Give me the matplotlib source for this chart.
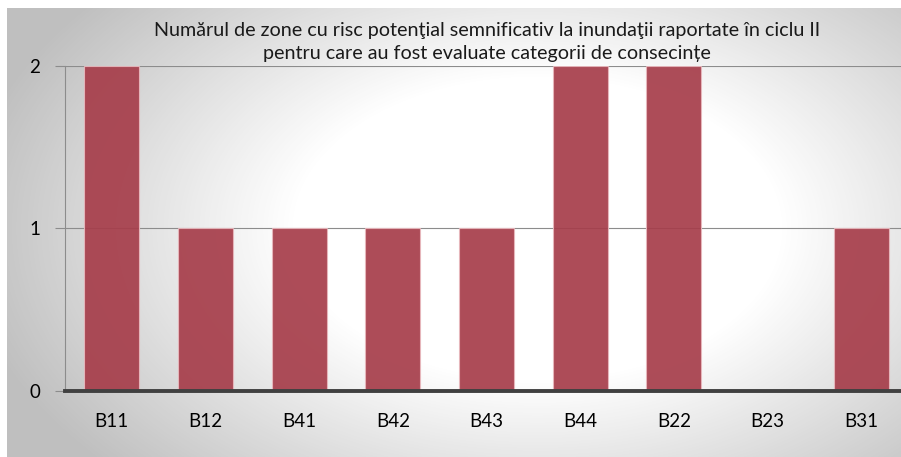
import numpy as np
import matplotlib.pyplot as plt
from matplotlib.colors import LinearSegmentedColormap

categories = ["B11", "B12", "B41", "B42", "B43", "B44", "B22", "B23", "B31"]
values = [2, 1, 1, 1, 1, 2, 2, 0, 1]
yticks = [0, 1, 2]
title = ("Numărul de zone cu risc potenţial semnificativ la inundaţii raportate în ciclu II\n"
         "pentru care au fost evaluate categorii de consecințe")

plt.rcParams['font.family'] = ['Lato', 'DejaVu Sans']

W, H = 901, 457
fig = plt.figure(figsize=(W / 100, H / 100), dpi=100)
fig.patch.set_facecolor("white")

# radial gradient background of the chart area
bg = fig.add_axes([7 / W, 0, 1 - 7 / W, 1 - 8 / H])
bg.set_axis_off()
yy, xx = np.mgrid[0:449, 0:894]
d = np.sqrt(((xx - 530) / 580.0) ** 2 + ((yy - 220) / 360.0) ** 2)
d = np.clip(d, 0, 1)
cmap = LinearSegmentedColormap.from_list(
    "g", [(0, "#ffffff"), (0.42, "#ffffff"), (1, "#bfbfbf")], N=256)
bg.imshow(d, cmap=cmap, vmin=0, vmax=1, aspect="auto", extent=[0, 1, 0, 1])
bg.set_xlim(0, 1)
bg.set_ylim(0, 1)

ax = fig.add_axes([65 / W, 66 / H, 843 / W, 325 / H])
ax.patch.set_alpha(0)
x = np.arange(len(categories))
ax.bar(x, values, width=0.59, color="#a63d4a", alpha=0.92, edgecolor="#e8b8bd",
       linewidth=0.8, zorder=3)
ax.set_xlim(-0.5, len(categories) - 0.5)
ax.set_ylim(0, 2)
ax.set_yticks(yticks)
ax.set_yticklabels([str(v) for v in yticks], fontsize=13.5)
ax.set_xticks(x)
ax.set_xticklabels(categories, fontsize=13.5)
ax.tick_params(axis="x", length=0, pad=16)
ax.tick_params(axis="y", length=7, color="#8c8c8c", pad=11)
ax.grid(axis="y", color="#8c8c8c", linewidth=0.8, zorder=2)
for s in ["top", "right"]:
    ax.spines[s].set_visible(False)
ax.spines["left"].set_color("#8c8c8c")
ax.spines["left"].set_linewidth(0.8)
ax.spines["bottom"].set_color("#404040")
ax.spines["bottom"].set_linewidth(2.8)
ax.spines["bottom"].set_zorder(4)

fig.text(487 / W, 1 - 42 / H, title, ha="center", va="center", fontsize=14.2,
         linespacing=1.4, color="#1a1a1a")

fig.savefig("out.png", dpi=100)
